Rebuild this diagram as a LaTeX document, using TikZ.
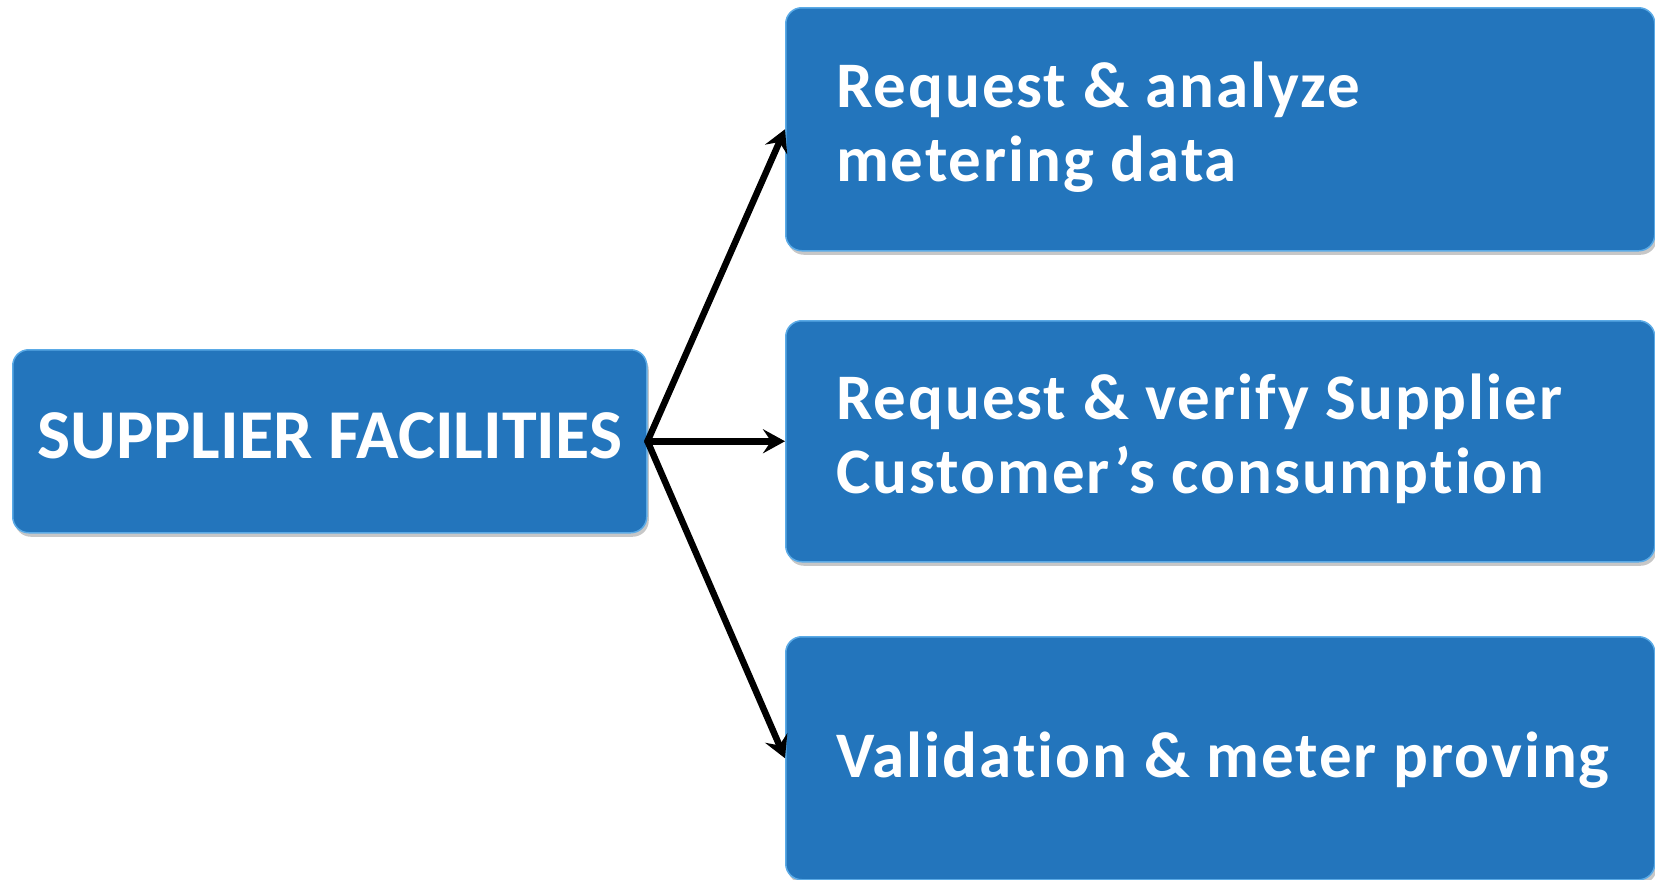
\documentclass[tikz,border=0pt]{standalone}
\usepackage{fontspec}
\setmainfont{Carlito}[Ligatures=NoCommon]
\newfontfamily\panelfont{Carlito}[Ligatures=NoCommon, LetterSpace=3]
\usetikzlibrary{arrows.meta,shadows}
\definecolor{boxblue}{HTML}{2375BC}
\definecolor{boxrim}{HTML}{5AAAE6}
\tikzset{
  panel/.style={rectangle, rounded corners=16pt, fill=boxblue, draw=boxrim,
    line width=1.5pt, inner sep=0pt,
    general shadow={shadow xshift=2pt, shadow yshift=-4pt, fill=black, opacity=0.22}},
  caption/.style={text=white, font=\panelfont\bfseries\fontsize{65}{74}\selectfont,
    align=left, inner sep=0pt, anchor=west},
  srccaption/.style={text=white, font=\bfseries\fontsize{70}{80}\selectfont,
    inner sep=0pt},
  link/.style={line width=6.5pt, line cap=round,
    -{Stealth[length=22pt,width=24pt,inset=8pt]}}
}
\begin{document}
\begin{tikzpicture}[x=1pt,y=-1pt]
\useasboundingbox (0,0) rectangle (1655,879);

% boxes
\node[panel, minimum width=634pt, minimum height=183pt, anchor=north west] (src) at (12,349) {};
\node[panel, minimum width=869pt, minimum height=243pt, anchor=north west] (top) at (785,7) {};
\node[panel, minimum width=869pt, minimum height=241pt, anchor=north west] (mid) at (785,320) {};
\node[panel, minimum width=869pt, minimum height=243pt, anchor=north west] (bot) at (785,636) {};

% texts
\node[srccaption, yshift=5pt] (srct) at (src.center) {SUPPLIER FACILITIES};
\node[caption, yshift=2pt] (topt) at ([xshift=51pt]top.west) {Request \& analyze\\metering data};
\node[caption, yshift=2pt] (midt) at ([xshift=51pt]mid.west) {Request \& verify Supplier\\Customer’s consumption};
\node[caption, yshift=-2pt] (bott) at ([xshift=51pt]bot.west) {Validation \& meter proving};

% connectors
\draw[link] (src.east) -- (top.west);
\draw[link] (src.east) -- (mid.west);
\draw[link] (src.east) -- (bot.west);
\end{tikzpicture}
\end{document}
